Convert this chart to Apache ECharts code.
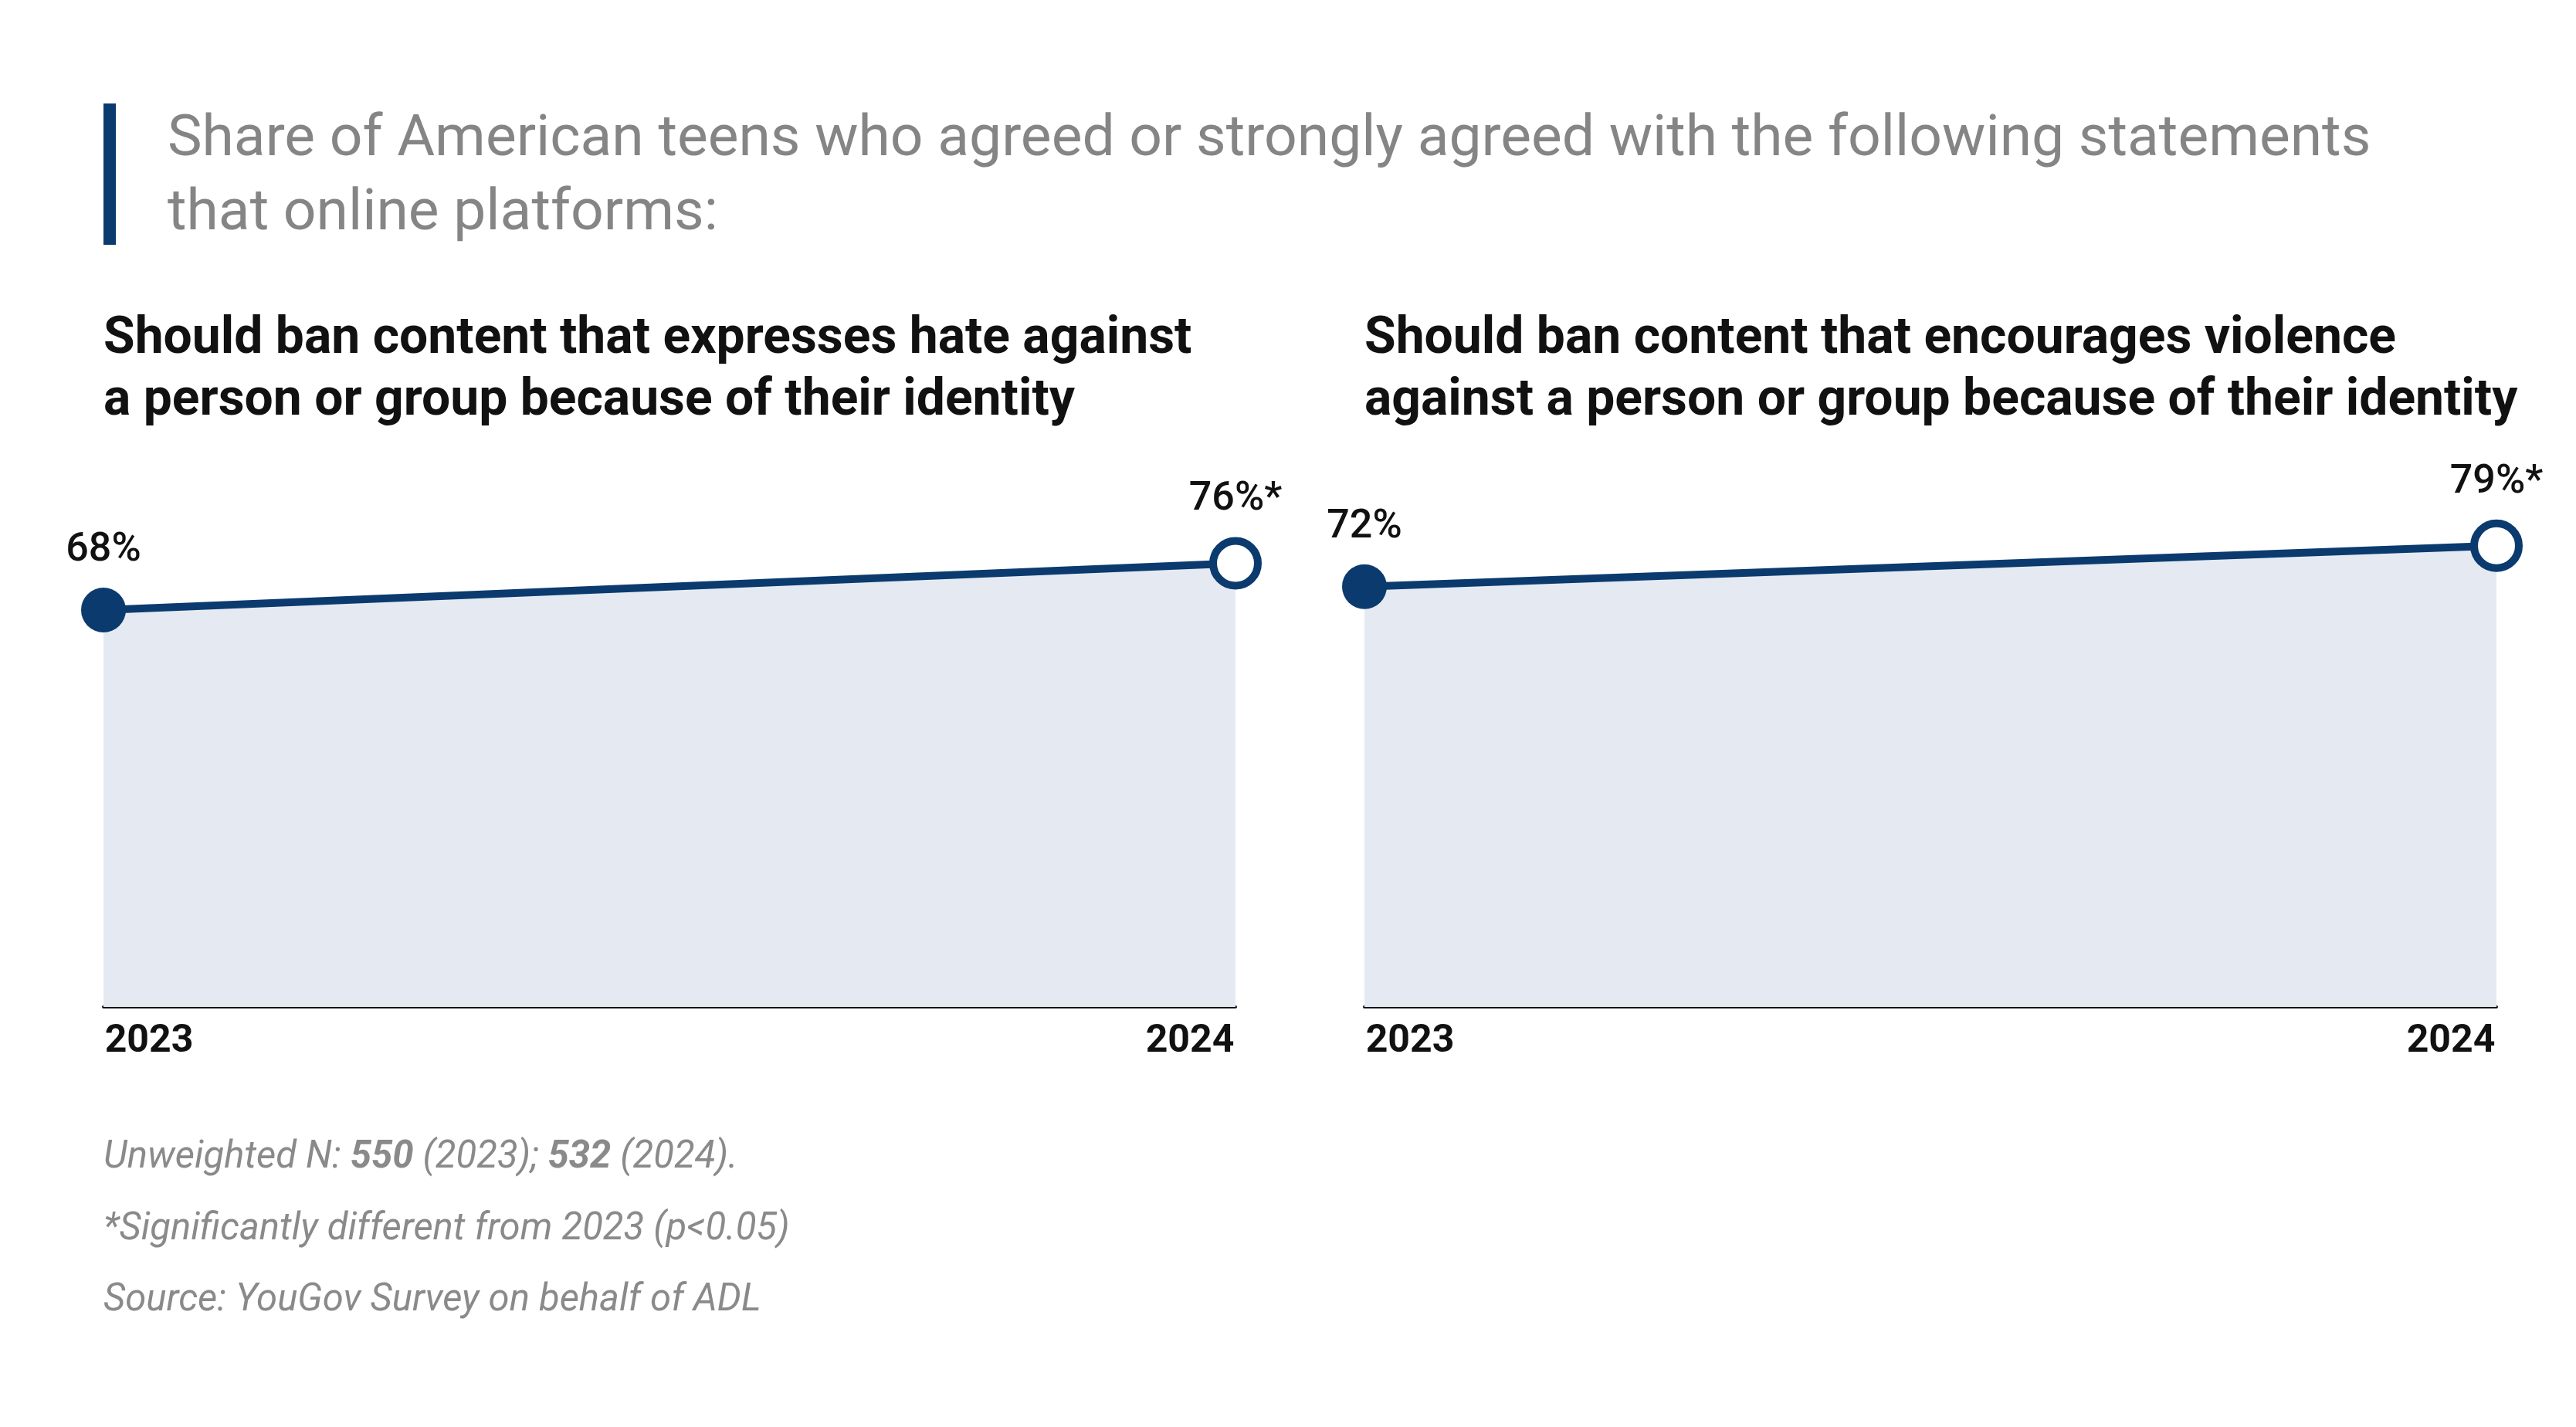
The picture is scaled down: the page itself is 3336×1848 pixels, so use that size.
<!DOCTYPE html>
<html><head><meta charset="utf-8">
<script src="https://cdn.jsdelivr.net/npm/echarts@6/dist/echarts.min.js"></script>
<style>html,body{margin:0;padding:0;background:#fff}#c{width:3336px;height:1848px}</style>
</head><body><div id="c"></div>
<script>
const years = ['2023', '2024'];
const hateValues = [68, 76];
const violenceValues = [72, 79];
const hateLabels = ['68%', '76%*'];
const violenceLabels = ['72%', '79%*'];
const panelTitles = [
  'Should ban content that expresses hate against\na person or group because of their identity',
  'Should ban content that encourages violence\nagainst a person or group because of their identity'
];
const mainTitle = 'Share of American teens who agreed or strongly agreed with the following statements\nthat online platforms:';

const navy = '#0b3a6e';
const chart = echarts.init(document.getElementById('c'));
const grids = [
  {left: 134, width: 1466, top: 548, height: 756},
  {left: 1767, width: 1466, top: 548, height: 756}
];
function series(i, vals, labels) {
  return {
    type: 'line', xAxisIndex: i, yAxisIndex: i,
    data: vals.map((v, k) => ({
      value: v,
      symbolSize: 58,
      itemStyle: k === 0 ? {color: navy, borderColor: navy, borderWidth: 0} : {color: '#fff', borderColor: navy, borderWidth: 10},
      label: {formatter: labels[k]}
    })),
    symbol: 'circle',
    lineStyle: {color: navy, width: 10},
    areaStyle: {color: '#e5eaf2', opacity: 1},
    label: {show: true, position: 'top', distance: 22, fontFamily: 'Roboto', fontSize: 52, fontWeight: 500, color: '#111'},
    z: 3, animation: false
  };
}
chart.setOption({
  animation: false,
  grid: grids,
  xAxis: [0, 1].map(i => ({
    type: 'category', gridIndex: i, data: years, boundaryGap: false,
    axisLine: {lineStyle: {color: '#111', width: 4}}, axisTick: {show: false},
    axisLabel: {
      fontFamily: 'Roboto', fontSize: 50, fontWeight: 'bold', color: '#111', margin: 20,
      formatter: (v, idx) => idx === 0 ? '{l|' + v + '}' : '{r|' + v + '}',
      rich: {l: {align: 'left', padding: [0, 0, 0, 118], fontFamily: 'Roboto', fontSize: 50, fontWeight: 'bold', color: '#111'},
             r: {align: 'right', padding: [0, 118, 0, 0], fontFamily: 'Roboto', fontSize: 50, fontWeight: 'bold', color: '#111'}}
    }
  })),
  yAxis: [0, 1].map(i => ({type: 'value', gridIndex: i, min: 0, max: 100, show: false, splitLine: {show: false}})),
  series: [series(0, hateValues, hateLabels), series(1, violenceValues, violenceLabels)],
  graphic: [
    {type: 'rect', shape: {x: 134, y: 134, width: 16, height: 183}, style: {fill: navy}},
    {type: 'text', left: 217, top: 134, style: {text: mainTitle, font: '75px Roboto', fill: '#858585', lineHeight: 96}},
    {type: 'text', left: 134, top: 400, style: {text: panelTitles[0], font: 'bold 66px Roboto', fill: '#111', lineHeight: 80}},
    {type: 'text', left: 1767, top: 400, style: {text: panelTitles[1], font: 'bold 66px Roboto', fill: '#111', lineHeight: 80}},
    {type: 'text', left: 134, top: 1475, style: {
      text: '{i|Unweighted N: }{b|550}{i| (2023); }{b|532}{i| (2024).}',
      rich: {i: {font: 'italic 49px Roboto', fill: '#8a8a8a'}, b: {font: 'italic bold 49px Roboto', fill: '#8a8a8a'}}}},
    {type: 'text', left: 134, top: 1568, style: {text: '*Significantly different from 2023 (p<0.05)', font: 'italic 49px Roboto', fill: '#8a8a8a'}},
    {type: 'text', left: 134, top: 1660, style: {text: 'Source: YouGov Survey on behalf of ADL', font: 'italic 49px Roboto', fill: '#8a8a8a'}}
  ]
});
</script></body></html>
